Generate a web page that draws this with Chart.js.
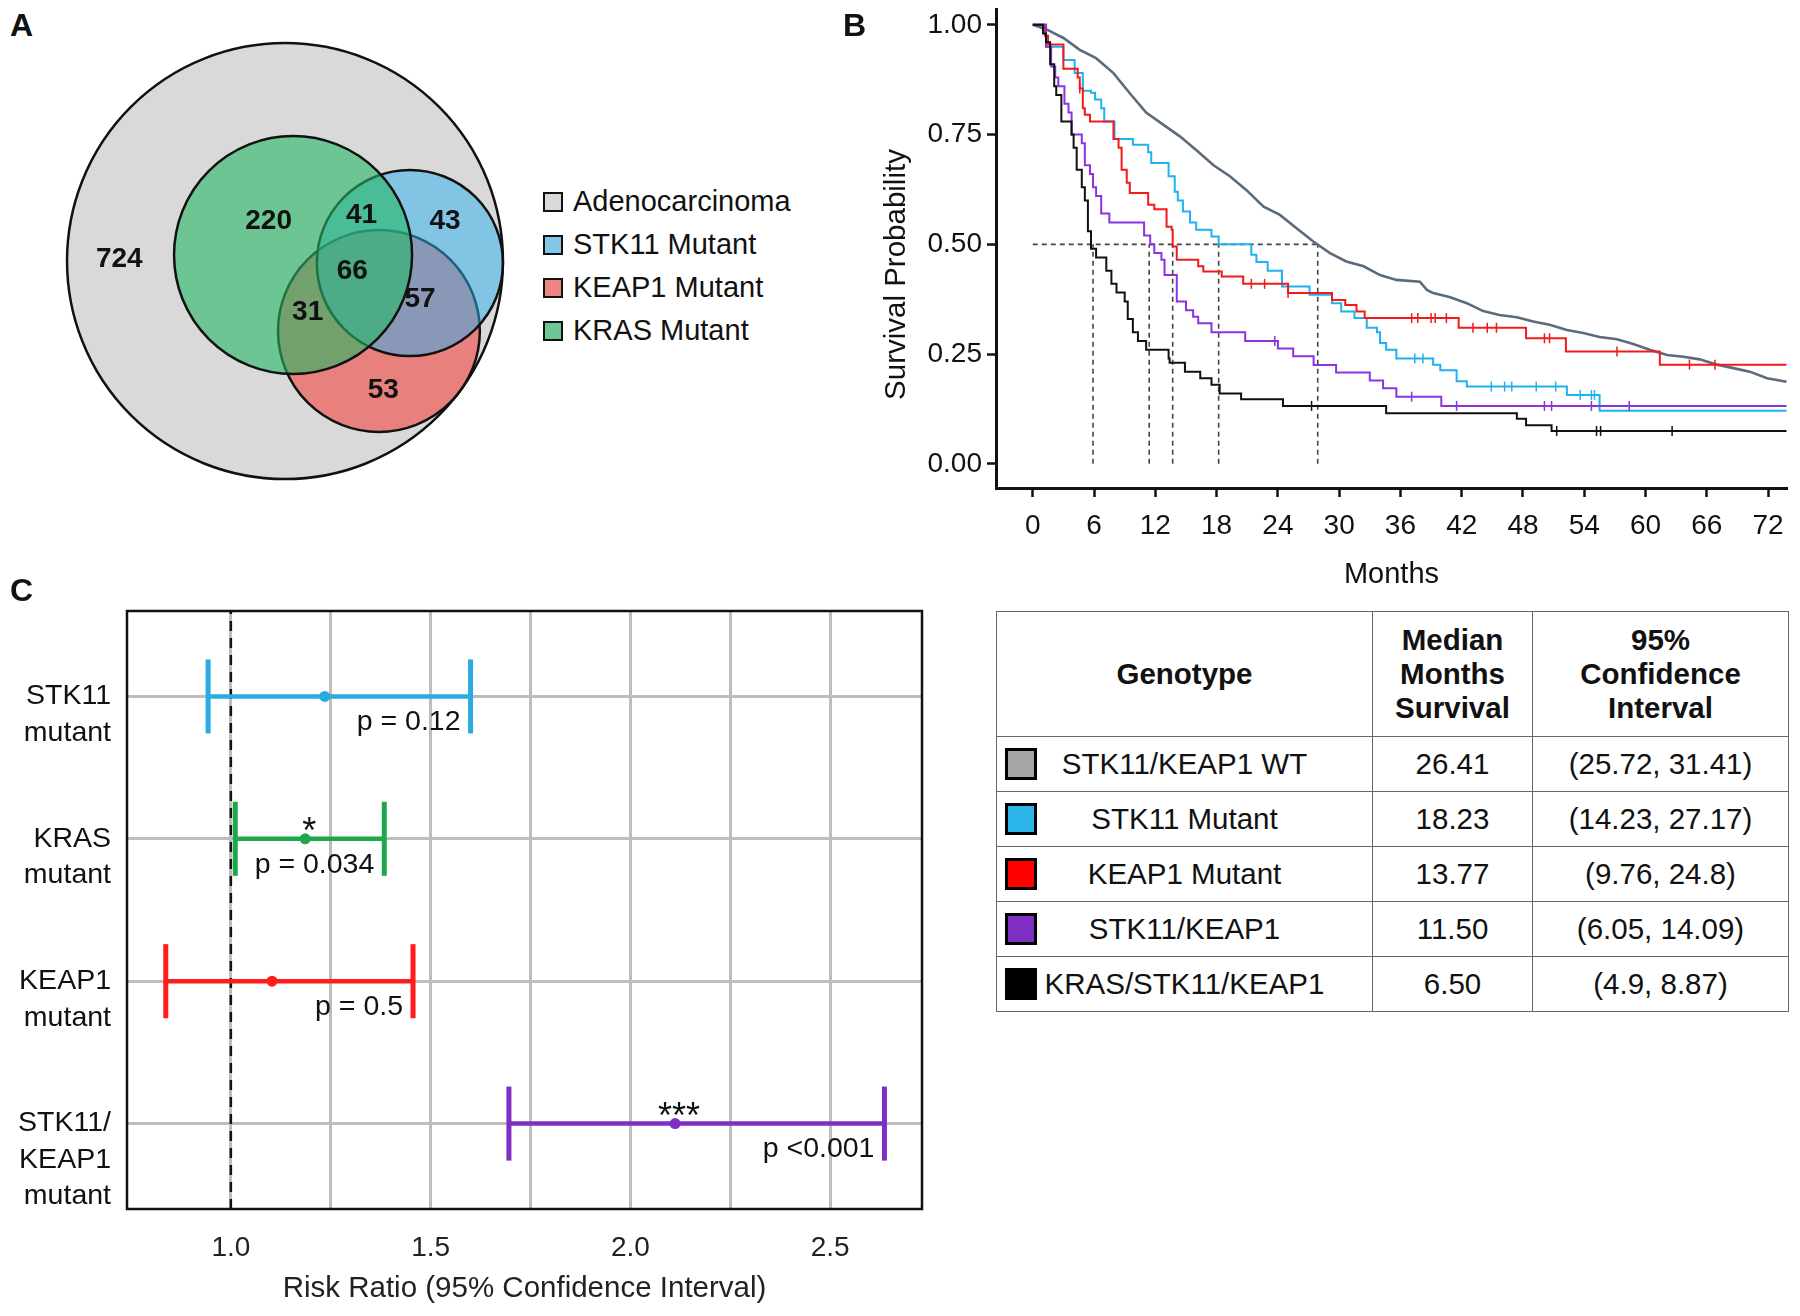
<!DOCTYPE html>
<html>
<head>
<meta charset="utf-8">
<title>STK11 / KEAP1 / KRAS survival</title>
<script src="https://cdn.jsdelivr.net/npm/chart.js@4.4.1/dist/chart.umd.min.js"></script>
<style>
  html, body { margin: 0; background: #fff; }
  body { font-family: "Liberation Sans", Arial, sans-serif; color: #111; }
  #page { position: relative; width: 1800px; height: 1316px; overflow: hidden; }
  canvas { position: absolute; }
  .tag { position: absolute; font-weight: bold; font-size: 32px; line-height: 1; z-index: 2; }
  #legendA { position: absolute; left: 543px; top: 180px; font-size: 29px; }
  #legendA div { height: 43px; display: flex; align-items: center; }
  #legendA .sw { width: 16px; height: 16px; border: 2.5px solid #111; margin-right: 10px; }
  #tbl { position: absolute; left: 996px; top: 611px; width: 792px; border-collapse: collapse;
         table-layout: fixed; font-size: 29.5px; color: #111; }
  #tbl th, #tbl td { border: 1.5px solid #666; text-align: center; padding: 0; }
  #tbl th { font-weight: bold; line-height: 34px; height: 124px; }
  #tbl td { position: relative; height: 54px; }
  #tbl .sq { position: absolute; left: 8px; top: 50%; width: 26px; height: 26px; margin-top: -16px; border: 3px solid #000; }
</style>
</head>
<body>
<div id="page">
  <canvas id="venn" width="500" height="500" style="left:40px;top:20px"></canvas>
  <canvas id="km" width="940" height="610" style="left:860px;top:0px"></canvas>
  <canvas id="forest" width="940" height="736" style="left:0px;top:580px"></canvas>
  <div id="legendA"></div>
  <table id="tbl"></table>
  <div class="tag" style="left:10px;top:9px">A</div>
  <div class="tag" style="left:843px;top:9px">B</div>
  <div class="tag" style="left:10px;top:574px">C</div>
</div>
<script>
// ---- Panel A: Venn (units: outer circle radius = 10)
const vennSets = ['Adenocarcinoma', 'STK11 Mutant', 'KEAP1 Mutant', 'KRAS Mutant'];
const vennX = [0, 5.73, 4.31, 0.37];
const vennY = [0, -0.09, -3.21, 0.28];
const vennR = [10, 4.27, 4.63, 5.46];
const vennCounts = [724, 220, 41, 43, 66, 31, 57, 53];
const vennLabX = [-7.6, -0.75, 3.51, 7.34, 3.09, 1.04, 6.2, 4.51];
const vennLabY = [0.07, 1.81, 2.12, 1.81, -0.45, -2.35, -1.77, -5.93];

// ---- Panel B: Kaplan-Meier (months, survival after each drop)
const monthTicks = [0, 6, 12, 18, 24, 30, 36, 42, 48, 54, 60, 66, 72];
const survTicks = [0, 0.25, 0.5, 0.75, 1];
const wtT = [0, 1.3, 3.0, 4.6, 6.2, 7.9, 9.5, 11.1, 12.8, 14.4, 16.0, 17.7, 19.3, 20.9, 22.6, 24.2, 25.8, 27.5, 29.1, 30.7, 32.4, 34.0, 35.6, 37.9, 38.6, 39.2, 40.8, 42.5, 44.1, 45.7, 47.4, 49.0, 50.6, 52.3, 53.9, 55.5, 57.2, 58.8, 60.4, 62.1, 63.7, 65.3, 67.0, 68.6, 70.2, 71.9, 73.8];
const wtS = [1.0, 0.99, 0.97, 0.943, 0.924, 0.89, 0.844, 0.80, 0.772, 0.746, 0.715, 0.68, 0.655, 0.624, 0.586, 0.567, 0.537, 0.506, 0.48, 0.461, 0.45, 0.43, 0.419, 0.415, 0.396, 0.389, 0.38, 0.366, 0.348, 0.339, 0.334, 0.324, 0.317, 0.305, 0.298, 0.289, 0.284, 0.273, 0.26, 0.248, 0.244, 0.238, 0.226, 0.218, 0.21, 0.195, 0.187];
const stkT = [0, 1.3, 3.0, 4.1, 4.9, 5.7, 6.1, 6.7, 7.0, 8.0, 9.8, 11.3, 11.6, 13.3, 13.9, 14.2, 14.7, 15.4, 16.0, 17.5, 18.2, 21.4, 21.9, 23.0, 24.4, 27.1, 29.3, 30.2, 31.5, 32.7, 33.7, 34.0, 34.6, 35.6, 39.2, 39.9, 41.5, 42.5, 52.3, 55.5, 73.8];
const stkS = [1.0, 0.95, 0.92, 0.89, 0.85, 0.845, 0.83, 0.81, 0.78, 0.74, 0.727, 0.71, 0.685, 0.655, 0.62, 0.60, 0.575, 0.55, 0.533, 0.518, 0.50, 0.476, 0.46, 0.44, 0.404, 0.385, 0.366, 0.347, 0.332, 0.31, 0.30, 0.275, 0.26, 0.24, 0.226, 0.213, 0.188, 0.176, 0.157, 0.121, 0.121];
const keapT = [0, 1.2, 1.5, 3.0, 4.4, 4.6, 4.9, 5.1, 5.6, 7.9, 8.4, 8.7, 9.2, 9.5, 11.3, 11.9, 13.1, 13.6, 13.7, 14.1, 16.2, 16.7, 18.5, 20.6, 25.0, 29.3, 30.6, 31.7, 32.5, 41.7, 48.3, 52.2, 61.4, 73.8];
const keapS = [1.0, 0.975, 0.955, 0.90, 0.88, 0.855, 0.81, 0.795, 0.78, 0.74, 0.72, 0.67, 0.64, 0.617, 0.59, 0.58, 0.54, 0.533, 0.495, 0.465, 0.45, 0.438, 0.427, 0.41, 0.389, 0.373, 0.362, 0.347, 0.332, 0.31, 0.286, 0.256, 0.226, 0.226];
const skT = [0, 1.3, 1.8, 2.2, 2.5, 3.1, 3.5, 3.8, 4.8, 5.1, 5.6, 5.9, 6.2, 6.7, 7.5, 10.9, 11.5, 11.9, 12.6, 12.9, 14.1, 15.0, 15.7, 16.2, 17.5, 20.8, 24.0, 25.5, 27.5, 29.7, 33.0, 34.3, 35.6, 40.0, 73.8];
const skS = [1.0, 0.95, 0.905, 0.88, 0.86, 0.82, 0.80, 0.75, 0.73, 0.68, 0.66, 0.63, 0.61, 0.57, 0.55, 0.52, 0.50, 0.48, 0.465, 0.43, 0.37, 0.35, 0.335, 0.32, 0.30, 0.28, 0.263, 0.245, 0.225, 0.208, 0.19, 0.172, 0.153, 0.132, 0.132];
const kskT = [0, 1.0, 1.3, 1.7, 2.1, 2.3, 2.8, 3.8, 4.0, 4.3, 4.8, 5.1, 5.4, 5.7, 6.2, 7.2, 7.7, 8.2, 9.0, 9.3, 9.8, 10.3, 11.1, 13.3, 13.4, 14.9, 16.4, 17.5, 18.3, 20.4, 24.5, 34.6, 47.4, 48.3, 50.8, 73.8];
const kskS = [1.0, 0.98, 0.96, 0.91, 0.86, 0.84, 0.78, 0.75, 0.72, 0.67, 0.63, 0.60, 0.53, 0.49, 0.47, 0.44, 0.41, 0.39, 0.37, 0.33, 0.30, 0.28, 0.26, 0.24, 0.23, 0.21, 0.195, 0.18, 0.16, 0.147, 0.132, 0.115, 0.103, 0.088, 0.075, 0.075];
// censoring times
const keapC = [4.6, 21.4, 22.7, 25.0, 37.1, 37.7, 39.0, 39.4, 40.5, 43.1, 44.5, 45.4, 50.1, 50.6, 57.2, 64.3, 66.8];
const stkC = [37.4, 38.2, 44.9, 46.2, 46.9, 49.3, 51.2, 53.6, 54.7, 55.0];
const skC = [23.7, 37.1, 41.5, 50.1, 50.8, 54.7, 58.4];
const kskC = [27.3, 51.3, 55.2, 55.6, 62.6];
const medianMarks = [5.9, 11.4, 13.7, 18.2, 27.9];

// ---- Panel C: risk ratios
const rowLabels = [['STK11', 'mutant'], ['KRAS', 'mutant'], ['KEAP1', 'mutant'], ['STK11/', 'KEAP1', 'mutant']];
const rrEst = [1.235, 1.186, 1.103, 2.112];
const rrLo = [0.943, 1.011, 0.837, 1.696];
const rrHi = [1.600, 1.384, 1.456, 2.636];
const pText = ['p = 0.12', 'p = 0.034', 'p = 0.5', 'p <0.001'];
const stars = ['', '*', '', '***'];
const rrGrid = [1, 1.25, 1.5, 1.75, 2, 2.25, 2.5];
const rrLabels = [1, 1.5, 2, 2.5];

// ---- Table
const genotypes = ['STK11/KEAP1 WT', 'STK11 Mutant', 'KEAP1 Mutant', 'STK11/KEAP1', 'KRAS/STK11/KEAP1'];
const medians = ['26.41', '18.23', '13.77', '11.50', '6.50'];
const ciText = ['(25.72, 31.41)', '(14.23, 27.17)', '(9.76, 24.8)', '(6.05, 14.09)', '(4.9, 8.87)'];

const FONT = '"Liberation Sans", Arial, sans-serif';
Chart.defaults.font.family = FONT;
Chart.defaults.color = '#111';
Chart.defaults.animation = false;
Chart.defaults.responsive = false;
Chart.defaults.events = [];
Chart.defaults.plugins.legend.display = false;
Chart.defaults.plugins.tooltip.enabled = false;

// keep the plot area where we put it, whatever the tick labels overhang
const noPad = s => { s.paddingTop = 0; s.paddingBottom = 0; s.paddingLeft = 0; s.paddingRight = 0; };

// Venn
const vennFill = ['#d9d9d9', 'rgba(43,175,239,0.5)', 'rgba(242,69,65,0.6)', 'rgba(37,184,100,0.6)'];
const vennSwatch = ['#d9d9d9', '#84c6e6', '#ec8684', '#6fc795'];
const vennDraw = [4, 2, 3, 1];
const unitPx = ch => ch.scales.x.getPixelForValue(1) - ch.scales.x.getPixelForValue(0);

const vennText = {
  id: 'vennText',
  afterDatasetsDraw(chart) {
    const { ctx, scales: { x, y } } = chart;
    ctx.save();
    ctx.font = 'bold 28px ' + FONT;
    ctx.fillStyle = '#111';
    ctx.textAlign = 'center';
    ctx.textBaseline = 'middle';
    vennCounts.forEach((n, i) => ctx.fillText(String(n), x.getPixelForValue(vennLabX[i]), y.getPixelForValue(vennLabY[i])));
    ctx.restore();
  }
};

new Chart(document.getElementById('venn'), {
  type: 'scatter',
  data: {
    datasets: vennSets.map((name, i) => ({
      label: name,
      data: [{ x: vennX[i], y: vennY[i] }],
      order: vennDraw[i],
      backgroundColor: vennFill[i],
      borderColor: '#111',
      borderWidth: 2.5,
      pointRadius: c => vennR[i] * unitPx(c.chart),
      clip: false
    }))
  },
  options: {
    layout: { padding: 0 },
    scales: {
      x: { display: false, min: -11.24, max: 11.70 },
      y: { display: false, min: -11.88, max: 11.06 }
    }
  },
  plugins: [vennText]
});

const legendA = document.getElementById('legendA');
vennSets.forEach((name, i) => {
  const row = document.createElement('div');
  row.innerHTML = '<span class="sw" style="background:' + vennSwatch[i] + '"></span>' + name;
  legendA.appendChild(row);
});

// Kaplan-Meier
const stepAt = (t, s, m) => { let v = s[0]; t.forEach((tt, i) => { if (tt <= m) v = s[i]; }); return v; };
const pts = (t, s) => t.map((m, i) => ({ x: m, y: s[i] }));
const kmSeries = [
  { t: wtT, s: wtS, c: [] },
  { t: stkT, s: stkS, c: stkC },
  { t: keapT, s: keapS, c: keapC },
  { t: skT, s: skS, c: skC },
  { t: kskT, s: kskS, c: kskC }
];
const kmColors = ['#5b6b7c', '#1fb1f0', '#f21a1a', '#8a34e0', '#111111'];

const kmData = [];
kmSeries.forEach((k, i) => {
  kmData.push({
    data: pts(k.t, k.s), showLine: true, stepped: i === 0 ? false : 'before',
    borderColor: kmColors[i], borderWidth: i === 0 ? 2.6 : 2, pointRadius: 0, order: 5 - i
  });
  if (k.c.length) kmData.push({
    data: k.c.map(m => ({ x: m, y: stepAt(k.t, k.s, m) })),
    pointStyle: 'line', rotation: 90, pointRadius: 5, borderWidth: 1.5,
    borderColor: kmColors[i], backgroundColor: kmColors[i], order: 5 - i
  });
});
const medLine = { showLine: true, pointRadius: 0, borderColor: '#444', borderWidth: 1.6, borderDash: [5, 4], order: 10 };
kmData.push(Object.assign({ data: [{ x: 0, y: 0.5 }, { x: Math.max(...medianMarks), y: 0.5 }] }, medLine));
medianMarks.forEach(m => kmData.push(Object.assign({ data: [{ x: m, y: 0 }, { x: m, y: 0.5 }] }, medLine)));

// y title sits a little below the middle of the panel, as in the figure
const kmYTitle = {
  id: 'kmYTitle',
  afterDraw(chart) {
    const { ctx, chartArea: a } = chart;
    ctx.save();
    ctx.translate(37, (a.top + a.bottom) / 2 + 26);
    ctx.rotate(-Math.PI / 2);
    ctx.font = '29.5px ' + FONT;
    ctx.fillStyle = '#111';
    ctx.textAlign = 'center';
    ctx.textBaseline = 'middle';
    ctx.fillText('Survival Probability', 0, 0);
    ctx.restore();
  }
};

new Chart(document.getElementById('km'), {
  type: 'scatter',
  data: { datasets: kmData },
  options: {
    layout: { padding: { top: 9, right: 13, left: 0, bottom: 0 } },
    scales: {
      x: {
        type: 'linear', min: -3.6, max: 73.85,
        afterBuildTicks: s => { s.ticks = monthTicks.map(v => ({ value: v })); },
        afterFit: s => { s.height = 122; noPad(s); },
        grid: { drawOnChartArea: false, tickLength: 9, tickColor: '#111', tickWidth: 2.5 },
        border: { color: '#111', width: 3 },
        ticks: { font: { size: 28 }, color: '#111', padding: 12, maxRotation: 0, autoSkip: false, callback: v => v },
        title: { display: true, text: 'Months', font: { size: 29 }, color: '#111', padding: { top: 0, bottom: 18 } }
      },
      y: {
        type: 'linear', min: -0.055, max: 1.036,
        afterBuildTicks: s => { s.ticks = survTicks.map(v => ({ value: v })); },
        afterFit: s => { s.width = 136; noPad(s); },
        grid: { drawOnChartArea: false, tickLength: 9, tickColor: '#111', tickWidth: 2.5 },
        border: { color: '#111', width: 3 },
        ticks: { font: { size: 28 }, color: '#111', padding: 5, callback: v => v.toFixed(2) }
      }
    }
  },
  plugins: [kmYTitle]
});

// Forest plot
const rrColors = ['#29abe2', '#1da84c', '#ff1c1c', '#7d2ec4'];
const rowVal = i => rowLabels.length - i;
const CAP = 0.26;
const fData = [{
  data: [{ x: 1, y: 0.4 }, { x: 1, y: rowLabels.length + 0.6 }], showLine: true, pointRadius: 0,
  borderColor: '#111', borderWidth: 2.5, borderDash: [10, 7], order: 9
}];
rrEst.forEach((e, i) => {
  const y = rowVal(i), col = rrColors[i];
  const seg = { showLine: true, pointRadius: 0, borderColor: col, borderWidth: 4.5, order: 2 };
  fData.push(Object.assign({ data: [{ x: rrLo[i], y }, { x: rrHi[i], y }] }, seg));
  fData.push(Object.assign({ data: [{ x: rrLo[i], y: y - CAP }, { x: rrLo[i], y: y + CAP }] }, seg, { borderWidth: 5 }));
  fData.push(Object.assign({ data: [{ x: rrHi[i], y: y - CAP }, { x: rrHi[i], y: y + CAP }] }, seg, { borderWidth: 5 }));
  fData.push({ data: [{ x: e, y }], pointRadius: 5.5, backgroundColor: col, borderColor: col, borderWidth: 0, order: 1 });
});

const forestDeco = {
  id: 'forestDeco',
  afterDatasetsDraw(chart) {
    const { ctx, chartArea: a, scales: { x, y } } = chart;
    ctx.save();
    ctx.strokeStyle = '#111';
    ctx.lineWidth = 2.5;
    ctx.strokeRect(a.left, a.top, a.right - a.left, a.bottom - a.top);
    ctx.fillStyle = '#111';
    ctx.font = '28.5px ' + FONT;
    ctx.textAlign = 'right';
    ctx.textBaseline = 'middle';
    rrHi.forEach((h, i) => ctx.fillText(pText[i], x.getPixelForValue(h) - 10, y.getPixelForValue(rowVal(i)) + 26));
    ctx.font = '36px ' + FONT;
    ctx.textAlign = 'center';
    ctx.textBaseline = 'alphabetic';
    stars.forEach((s, i) => { if (s) ctx.fillText(s, x.getPixelForValue(rrEst[i]) + 4, y.getPixelForValue(rowVal(i)) + 4); });
    ctx.restore();
  }
};

new Chart(document.getElementById('forest'), {
  type: 'scatter',
  data: { datasets: fData },
  options: {
    layout: { padding: { top: 31, right: 18, left: 0, bottom: 0 } },
    scales: {
      x: {
        type: 'linear', min: 0.74, max: 2.73,
        afterBuildTicks: s => { s.ticks = rrGrid.map(v => ({ value: v })); },
        afterFit: s => { s.height = 107; noPad(s); },
        grid: { color: '#bdbdbd', lineWidth: 3, drawTicks: false },
        border: { display: false },
        ticks: { font: { size: 28 }, color: '#222', padding: 22, maxRotation: 0, autoSkip: false,
                 callback: v => rrLabels.includes(v) ? v.toFixed(1) : '' },
        title: { display: true, text: 'Risk Ratio (95% Confidence Interval)', font: { size: 29.5 }, color: '#222', padding: { top: 0, bottom: 9 } }
      },
      y: {
        type: 'linear', min: 0.4, max: rowLabels.length + 0.6,
        afterBuildTicks: s => { s.ticks = rowLabels.map((_, i) => ({ value: rowVal(i) })); },
        afterFit: s => { s.width = 127; noPad(s); },
        grid: { color: '#bdbdbd', lineWidth: 3, drawTicks: false },
        border: { display: false },
        ticks: { font: { size: 28.5, lineHeight: 1.28 }, color: '#111', padding: 16, autoSkip: false,
                 callback: v => { const lab = rowLabels[rowLabels.length - v]; return Array(lab.length - 1).fill('').concat(lab); } }
      }
    }
  },
  plugins: [forestDeco]
});

// Table
const sqColors = ['#a6a6a6', '#2bb4ea', '#ff0000', '#7e2fc2', '#000000'];
const tbl = document.getElementById('tbl');
tbl.innerHTML = '<colgroup><col style="width:376px"><col style="width:160px"><col style="width:256px"></colgroup>' +
  '<tr><th>Genotype</th><th>Median<br>Months<br>Survival</th><th>95%<br>Confidence<br>Interval</th></tr>';
genotypes.forEach((g, i) => {
  const tr = document.createElement('tr');
  tr.innerHTML = '<td><span class="sq" style="background:' + sqColors[i] + '"></span>' + g + '</td><td>' +
    medians[i] + '</td><td>' + ciText[i] + '</td>';
  tbl.appendChild(tr);
});
</script>
</body>
</html>
